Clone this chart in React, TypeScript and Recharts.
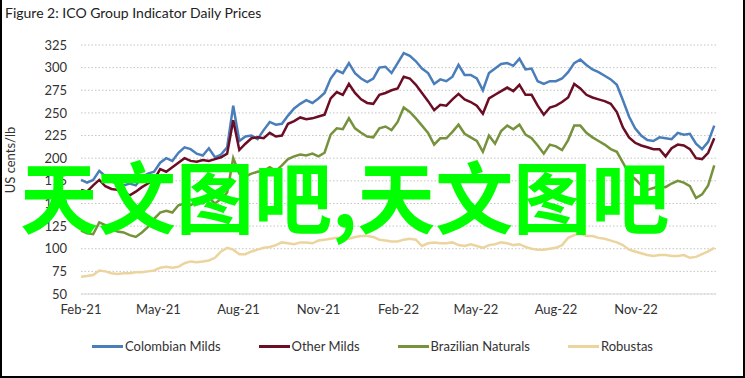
import { LineChart, Line, XAxis, YAxis, CartesianGrid, Legend } from "recharts";

// weekly readings, first point = 1 Feb 2021 (US cents/lb)
const colombianMilds = [
  176, 173, 176, 186, 180, 174, 172, 170, 172, 170, 179, 183, 185, 195, 200, 197,
  206, 212, 210, 205, 203, 211, 201, 204, 212, 258, 219, 224, 225, 221, 231, 240,
  237, 238, 247, 255, 260, 264, 261, 266, 272, 288, 297, 294, 305, 294, 288, 284,
  288, 300, 301, 294, 305, 316, 313, 307, 299, 294, 282, 287, 285, 290, 303, 292,
  292, 288, 275, 294, 299, 304, 305, 302, 310, 298, 299, 285, 282, 285, 285, 288,
  295, 305, 309, 303, 298, 295, 291, 287, 281, 264, 246, 233, 225, 220, 219, 223,
  222, 221, 228, 226, 227, 216, 210, 218, 236,
];
const otherMilds = [
  165, 163, 170, 176, 169, 166, 165, 162, 159, 163, 168, 172, 176, 188, 185, 190,
  195, 200, 197, 196, 198, 197, 199, 201, 205, 242, 209, 216, 222, 223, 222, 228,
  224, 225, 238, 241, 245, 243, 244, 246, 248, 266, 273, 270, 282, 272, 265, 261,
  260, 270, 272, 275, 277, 290, 288, 281, 272, 263, 253, 259, 258, 265, 271, 265,
  262, 258, 249, 266, 270, 274, 278, 274, 281, 270, 270, 258, 248, 256, 258, 262,
  267, 282, 277, 270, 267, 265, 263, 260, 251, 234, 223, 217, 214, 212, 210, 210,
  202, 211, 215, 214, 210, 200, 199, 206, 222,
];
const brazilianNaturals = [
  120, 117, 116, 129, 126, 122, 119, 118, 115, 113, 118, 124, 133, 140, 142, 140,
  148, 150, 148, 152, 150, 156, 150, 155, 162, 200, 183, 180, 183, 185, 186, 190,
  186, 192, 199, 202, 204, 203, 205, 202, 206, 226, 233, 232, 244, 233, 228, 224,
  223, 233, 235, 231, 240, 256, 251, 244, 236, 228, 215, 222, 222, 229, 237, 227,
  223, 219, 207, 225, 216, 230, 236, 232, 237, 226, 222, 214, 205, 215, 213, 209,
  220, 236, 236, 228, 223, 219, 215, 210, 207, 195, 183, 177, 170, 165, 167, 169,
  168, 172, 175, 173, 169, 156, 160, 170, 192,
];
const robustas = [
  69, 70, 71, 76, 75, 73, 72, 73, 73, 74, 74, 75, 76, 79, 80, 79,
  80, 84, 86, 85, 86, 87, 90, 97, 101, 99, 94, 94, 97, 99, 101, 102,
  104, 107, 106, 105, 107, 107, 106, 109, 110, 111, 112, 111, 111, 113, 114, 114,
  113, 110, 109, 108, 108, 110, 111, 110, 103, 106, 107, 106, 106, 107, 104, 103,
  105, 103, 101, 104, 105, 107, 106, 104, 105, 102, 100, 99, 99, 100, 101, 104,
  112, 115, 117, 114, 114, 112, 111, 109, 107, 104, 99, 97, 95, 93, 92, 93,
  93, 92, 92, 93, 90, 91, 94, 97, 101,
];

// days since 1 Feb 2021
const tickDays = [0, 89, 181, 273, 365, 454, 546, 638];
const tickLabels = ["Feb-21", "May-21", "Aug-21", "Nov-21", "Feb-22", "May-22", "Aug-22", "Nov-22"];
const yTicks = [50, 75, 100, 125, 150, 175, 200, 225, 250, 275, 300, 325];

const series = [
  { key: "colombian", name: "Colombian Milds", color: "#4a7ebb" },
  { key: "other", name: "Other Milds", color: "#6b0d25" },
  { key: "brazilian", name: "Brazilian Naturals", color: "#76923c" },
  { key: "robustas", name: "Robustas", color: "#ecd49e" },
];

const data = colombianMilds.map((v, i) => ({
  day: i * 7,
  colombian: v,
  other: otherMilds[i],
  brazilian: brazilianNaturals[i],
  robustas: robustas[i],
}));

const font = "'Liberation Sans Narrow', Lato, sans-serif";

function LegendRow() {
  return (
    <div
      style={{
        display: "flex",
        justifyContent: "center",
        gap: 38,
        fontFamily: font,
        fontSize: 13,
        color: "#333",
      }}
    >
      {series.map((s) => (
        <div key={s.key} style={{ display: "flex", alignItems: "center" }}>
          <span style={{ width: 31, height: 3, background: s.color, marginRight: 2 }} />
          <span>{s.name}</span>
        </div>
      ))}
    </div>
  );
}

export default function App() {
  return (
    <div
      style={{
        position: "absolute",
        left: 0,
        top: 0,
        width: 745,
        height: 378,
        boxSizing: "border-box",
        borderLeft: "2px solid #000",
        borderRight: "2px solid #000",
        borderBottom: "2px solid #000",
        background: "#fff",
      }}
    >
      <div style={{ position: "absolute", left: -2, top: 0 }}>
        <LineChart
          width={745}
          height={378}
          data={data}
          margin={{ top: 45, right: 29, bottom: 54, left: 0 }}
        >
          <CartesianGrid
            vertical={false}
            stroke="#c4c4c4"
            strokeDasharray="1.5 2"
          />
          <XAxis
            dataKey="day"
            type="number"
            domain={[0, 730]}
            ticks={tickDays}
            interval={0}
            tickFormatter={(d) => tickLabels[tickDays.indexOf(d)]}
            tickLine={false}
            tickSize={0}
            tickMargin={11}
            height={30}
            axisLine={{ stroke: "#d9d9d9" }}
            tick={{ fontFamily: font, fontSize: 13, fill: "#333" }}
          />
          <YAxis
            domain={[50, 325]}
            ticks={yTicks}
            interval={0}
            width={81}
            axisLine={false}
            tickLine={false}
            tickSize={0}
            tickMargin={14}
            tick={{ fontFamily: font, fontSize: 13, fill: "#333" }}
          />
          <Legend
            layout="horizontal"
            verticalAlign="middle"
            align="center"
            wrapperStyle={{ top: 338, left: 0, width: 745 }}
            content={() => <LegendRow />}
          />
          {series.map((s) => (
            <Line
              key={s.key}
              dataKey={s.key}
              name={s.name}
              stroke={s.color}
              strokeWidth={2.5}
              dot={false}
              type="linear"
              isAnimationActive={false}
            />
          ))}
        </LineChart>
        <div
          style={{
            position: "absolute",
            left: 5,
            top: 4,
            fontFamily: font,
            fontSize: 14,
            color: "#222",
            whiteSpace: "nowrap",
          }}
        >
          Figure 2: ICO Group Indicator Daily Prices
        </div>
        <div
          style={{
            position: "absolute",
            left: 10,
            top: 160,
            transform: "translate(-50%, -50%) rotate(-90deg)",
            fontFamily: font,
            fontSize: 13,
            color: "#333",
            whiteSpace: "nowrap",
          }}
        >
          US cents/lb
        </div>
        <div
          style={{
            position: "absolute",
            left: 20,
            top: 155,
            fontFamily: "'Noto Sans CJK SC', sans-serif",
            fontWeight: 700,
            fontSize: 78,
            lineHeight: "78px",
            color: "#00ff00",
            whiteSpace: "nowrap",
          }}
        >
          天文图吧,天文图吧
        </div>
      </div>
    </div>
  );
}
